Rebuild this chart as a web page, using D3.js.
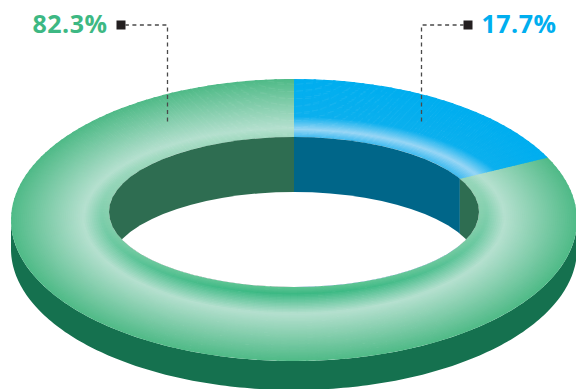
<!DOCTYPE html>
<html>
<head>
<meta charset="utf-8">
<script src="https://cdn.jsdelivr.net/npm/d3@7"></script>
<style>
  html, body { margin: 0; padding: 0; background: #ffffff; }
  svg { display: block; }
</style>
</head>
<body>
<svg id="chart" width="576" height="389"></svg>
<script>
// Share values, in drawing order (clockwise from 12 o'clock)
const categories = ["Segment B", "Segment A"];
const values = [17.7, 82.3];
const valueLabels = ["17.7%", "82.3%"];

const width = 576, height = 389;
const cx = 294;
// Top face of the ring: inner edge (t = 0) and outer edge (t = 1) ellipses
const innerEdge = { cy: 212, rx: 185, ry: 75 };
const outerEdge = { cy: 220, rx: 283, ry: 141 };
const sideDepth = 29;   // height of the outer rim
const wallDepth = 55;   // visible depth of the inner wall

const palette = {
  side: "#15714f",
  wall: ["#006689", "#2e6d51"],
  text: ["#00aeef", "#3db883"],
  leader: "#4a4a4a",
  marker: "#231f20"
};

const svg = d3.select("#chart");
const slices = d3.pie().sort(null).value(d => d)(values);

const lerp = d3.interpolateNumber;
function edgeAt(t) {
  return {
    cy: lerp(innerEdge.cy, outerEdge.cy)(t),
    rx: lerp(innerEdge.rx, outerEdge.rx)(t),
    ry: lerp(innerEdge.ry, outerEdge.ry)(t)
  };
}
function point(t, a, dy = 0) {
  const e = edgeAt(t);
  return [cx + e.rx * Math.sin(a), e.cy - e.ry * Math.cos(a) + dy];
}

const clamp01 = k => Math.max(0, Math.min(1, k));
const mix = (a, b, k) => d3.interpolateRgb(a, b)(clamp01(k));
function profile(stops, t) {
  for (let i = 1; i < stops.length; i++) {
    if (t <= stops[i][0]) {
      const [t0, c0] = stops[i - 1], [t1, c1] = stops[i];
      return mix(c0, c1, (t - t0) / (t1 - t0));
    }
  }
  return stops[stops.length - 1][1];
}

// Tube-like shading across the ring: t runs inner -> outer, n runs far (0) -> near (1)
const shading = [
  (t, n) => {
    const lp = 0.13 + 0.2 * n;
    return profile([[0, "#3fbbf0"], [lp, "#98d6f5"], [lp + 0.22, "#0cb0ee"], [1, "#00aeef"]], t);
  },
  (t, n) => {
    const lp = 0.15 + 0.21 * n;
    const g = Math.pow(n, 1.5);
    return profile([
      [0, mix("#9fd7be", "#5fc493", g)],
      [0.07 + 0.02 * n, mix("#a8dcc5", "#3cb984", g)],
      [lp, "#b5e0cf"],
      [1, "#4fba87"]
    ], t);
  }
];

const line = d3.line();

// Outer rim (front half of the outer ellipse, extruded downwards)
{
  const a = d3.range(0, 181).map(i => Math.PI / 2 + Math.PI * i / 180);
  const top = a.map(v => point(1, v));
  const bottom = a.slice().reverse().map(v => point(1, v, sideDepth));
  svg.append("path")
    .attr("d", line(top.concat(bottom)) + "Z")
    .attr("fill", palette.side);
}

// Top face: small cells painted inner -> outer and column by column; each cell
// reaches a little into its neighbours so the next one covers the seam.
const tSteps = 50;
const stepAngle = 2 * Math.PI / 180;
const angOver = 0.5 * Math.PI / 180;
const tOver = 0.5 / tSteps;
const face = svg.append("g").attr("class", "face");
slices.slice().reverse().forEach(s => {
  const i = s.index;
  const spill = i !== 0;           // later slices tuck under the first one
  const span = s.endAngle - s.startAngle;
  const nA = Math.max(2, Math.ceil(span / stepAngle));
  for (let j = 0; j < nA; j++) {
    let a0 = s.startAngle + span * j / nA;
    let a1 = s.startAngle + span * (j + 1) / nA;
    const n = (1 - Math.cos((a0 + a1) / 2)) / 2;
    if (j === 0 && spill) a0 -= angOver;
    if (j < nA - 1 || spill) a1 += angOver;
    for (let k = 0; k < tSteps; k++) {
      const t0 = k / tSteps;
      const t1 = k === tSteps - 1 ? 1 : (k + 1) / tSteps + tOver;
      const col = shading[i]((k + 0.5) / tSteps, n);
      face.append("path")
        .attr("d", line([point(t0, a0), point(t1, a0), point(t1, a1), point(t0, a1)]) + "Z")
        .attr("fill", col);
    }
  }
});

// Inner wall and the hole, clipped to the inner edge of the top face
svg.append("clipPath").attr("id", "hole-clip")
  .append("ellipse")
  .attr("cx", cx).attr("cy", innerEdge.cy)
  .attr("rx", innerEdge.rx).attr("ry", innerEdge.ry);

const hole = svg.append("g").attr("clip-path", "url(#hole-clip)");
const backRanges = [[0, Math.PI / 2], [1.5 * Math.PI, 2 * Math.PI]];
slices.forEach((s, i) => {
  backRanges.forEach(([lo, hi]) => {
    const a0 = Math.max(lo, s.startAngle), a1 = Math.min(hi, s.endAngle);
    if (a1 <= a0) return;
    const x0 = cx + innerEdge.rx * Math.sin(a0);
    const x1 = cx + innerEdge.rx * Math.sin(a1);
    hole.append("rect")
      .attr("x", Math.min(x0, x1)).attr("width", Math.abs(x1 - x0))
      .attr("y", innerEdge.cy - innerEdge.ry - 1)
      .attr("height", 2 * innerEdge.ry + 2)
      .attr("fill", palette.wall[i]);
  });
});
hole.append("ellipse")
  .attr("cx", cx).attr("cy", innerEdge.cy + wallDepth)
  .attr("rx", innerEdge.rx).attr("ry", innerEdge.ry)
  .attr("fill", "#ffffff");

// Value labels with elbow leader lines
const anchorT = 0.56, elbowY = 25, armLength = 42, markerSize = 9;
const labels = svg.append("g").attr("class", "labels");
slices.forEach((s, i) => {
  const mid = (s.startAngle + s.endAngle) / 2;
  const e = edgeAt(anchorT);
  const ax = Math.round(cx + e.rx * Math.sin(mid)) + 0.5;
  const ay = e.cy - e.ry * Math.abs(Math.cos(mid));
  const dir = Math.sin(mid) >= 0 ? 1 : -1;
  const mx = ax + dir * armLength;
  labels.append("path")
    .attr("d", line([[ax, ay], [ax, elbowY], [mx, elbowY]]))
    .attr("fill", "none")
    .attr("stroke", palette.leader)
    .attr("stroke-width", 1.3)
    .attr("stroke-dasharray", "4,3.5");
  labels.append("rect")
    .attr("x", dir > 0 ? mx : mx - markerSize)
    .attr("y", elbowY - markerSize / 2)
    .attr("width", markerSize).attr("height", markerSize)
    .attr("fill", palette.marker);
  labels.append("text")
    .attr("x", mx + dir * (markerSize + 9))
    .attr("y", 33)
    .attr("text-anchor", dir > 0 ? "start" : "end")
    .attr("font-family", "'Open Sans', sans-serif")
    .attr("font-weight", 700)
    .attr("font-size", 25)
    .attr("letter-spacing", 0.5)
    .attr("fill", palette.text[i])
    .text(valueLabels[i]);
});
</script>
</body>
</html>
